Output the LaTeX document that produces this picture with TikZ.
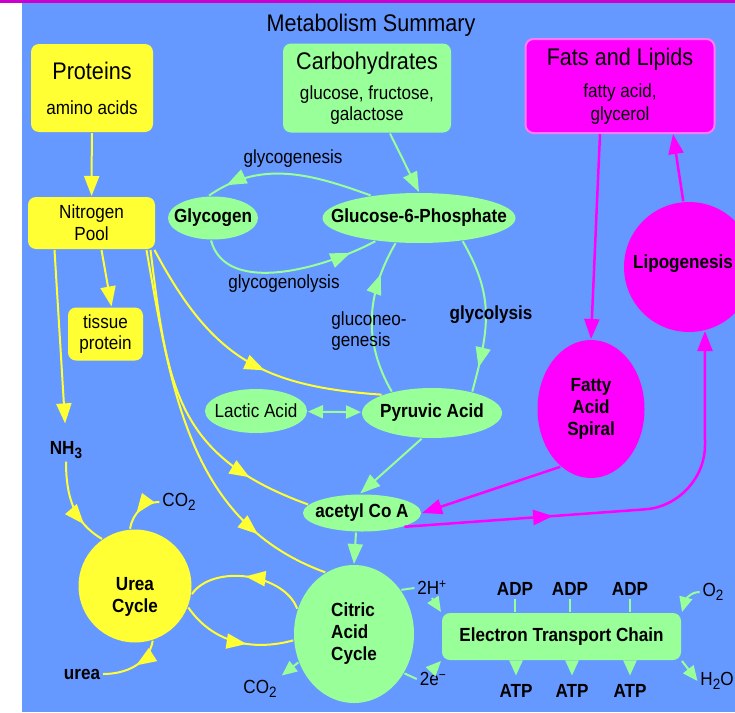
\documentclass[tikz,border=0pt]{standalone}
\usepackage{fontspec}
\setmainfont{Liberation Sans}[FakeStretch=0.9]
\usetikzlibrary{arrows.meta,shapes.geometric,decorations.markings}

\definecolor{sky}{RGB}{102,153,255}
\definecolor{leaf}{RGB}{153,255,153}
\definecolor{lemon}{RGB}{255,255,51}
\definecolor{fuchsia}{RGB}{255,0,255}
\definecolor{pinkrim}{RGB}{255,120,255}
\definecolor{plum}{RGB}{204,0,204}

\newcommand{\hdr}{\fontsize{24}{26}\selectfont}
\newcommand{\lowidx}[1]{\raisebox{-4pt}{\fontsize{15}{15}\selectfont #1}}
\newcommand{\slim}[1]{\makebox[0pt]{#1}}

\begin{document}
\begin{tikzpicture}[x=1pt,y=-1pt,>={Triangle[length=20pt,width=15pt]},
                    line width=2pt,font=\fontsize{19}{21}\selectfont,
                    heavy/.style={font=\fontsize{19}{22}\selectfont\bfseries},
                    short tip/.style={>={Triangle[length=15pt,width=13pt]}},
                    midtip/.style={postaction={decorate},decoration={markings,
                      mark=at position #1 with {\arrow{>}}}}]

  \tikzstyle{box}=[rectangle,rounded corners=8pt,align=center,inner sep=0pt]
  \tikzstyle{blob}=[ellipse,inner sep=0pt]
  \tikzstyle{chem}=[inner sep=2pt]

  \useasboundingbox (0,0) rectangle (735,712);
  \fill[white] (0,0) rectangle (735,712);
  \fill[sky] (22,3) rectangle (735,712);
  \fill[plum] (0,0) rectangle (735,2.5);

  \node (title) at (371,25) {\hdr Metabolism Summary};

  % sources
  \node[box,fill=lemon,minimum width=122pt,minimum height=88pt] (prot) at (92,88)
        {{\hdr Proteins}\\[14pt]amino acids};
  \node[box,fill=leaf,minimum width=168pt,minimum height=89pt] (carb) at (367,88)
        {{\hdr Carbohydrates}\\[9pt]glucose, fructose,\\galactose};
  \node[box,fill=fuchsia,draw=pinkrim,minimum width=189pt,minimum height=94pt] (fats) at (620,86)
        {{\hdr Fats and Lipids}\\[11pt]fatty acid,\\[2pt]glycerol};
  \node[box,fill=lemon,minimum width=127pt,minimum height=52pt] (npool) at (91.5,223)
        {Nitrogen\\[1pt]Pool};
  \node[box,fill=lemon,minimum width=75pt,minimum height=53pt] (tissue) at (105.5,334)
        {tissue\\protein};

  % intermediates
  \node[blob,fill=leaf,heavy,minimum width=90pt,minimum height=43pt] (glycogen) at (213,218) {\slim{Glycogen}};
  \node[blob,fill=leaf,heavy,minimum width=193pt,minimum height=50pt] (g6p) at (419,218) {\slim{Glucose-6-Phosphate}};
  \node[blob,fill=leaf,minimum width=102pt,minimum height=44pt] (lactic) at (256,411) {\slim{Lactic Acid}};
  \node[blob,fill=leaf,heavy,minimum width=140pt,minimum height=50pt] (pyruvic) at (432,413) {\slim{Pyruvic Acid}};
  \node[blob,fill=leaf,heavy,minimum width=118pt,minimum height=37pt] (acetyl) at (362,513) {\slim{acetyl Co A}};
  \node[blob,fill=leaf,heavy,align=left,minimum width=120pt,minimum height=138pt] (citric) at (354,634) {Citric\\Acid\\Cycle};
  \node[circle,fill=lemon,inner sep=0pt,minimum size=113pt,
        label={[heavy,align=center,yshift=-11pt]center:Urea\\Cycle}] (urea) at (135,586) {};
  \node[blob,fill=fuchsia,heavy,align=center,minimum width=107pt,minimum height=138pt] (fas) at (591,409) {Fatty\\Acid\\Spiral};
  \node[circle,fill=fuchsia,inner sep=0pt,minimum size=130pt,
        label={[heavy,xshift=-6pt,yshift=3pt]center:Lipogenesis}] (lipo) at (689,267) {};
  \node[box,fill=leaf,heavy,minimum width=239pt,minimum height=47pt] (etc) at (561.5,636.5) {Electron Transport Chain};

  % small labels
  \node[chem,heavy] (nh3)     at (66,450)  {NH\lowidx{3}};
  \node[chem]       (co2a)    at (179,502) {CO\lowidx{2}};
  \node[chem,heavy] (urealbl) at (82,674)  {urea};
  \node[chem]       (co2b)    at (260,689) {CO\lowidx{2}};
  \node[chem]       (hplus)   at (432,588) {2H\textsuperscript{+}};
  \node[chem]       (eminus)  at (433,679) {2e\textsuperscript{−}};
  \node[chem,heavy] (adp1)    at (515,589) {ADP};
  \node[chem,heavy] (adp2)    at (570,589) {ADP};
  \node[chem,heavy] (adp3)    at (630,589) {ADP};
  \node[chem,heavy] (atp1)    at (516,691) {ATP};
  \node[chem,heavy] (atp2)    at (572,691) {ATP};
  \node[chem,heavy] (atp3)    at (630,691) {ATP};
  \node[chem]       (o2)      at (713,592) {O\lowidx{2}};
  \node[chem]       (h2o)     at (717,681) {H\lowidx{2}O};

  % nitrogen side
  \path[lemon]
  (prot)                      edge [->] (npool)
  ([xshift=10pt]npool.south)  edge [->] ([xshift=6pt]tissue.north)
  ([xshift=-37pt]npool.south) edge [->,shorten >=15pt] (nh3.north)
  (nh3.south)  edge [out=-90,in=150,midtip=0.74] (urea.125)
  (co2a.west)  edge [out=180,in=80,midtip=0.62]  (urea.95)
  (urea.-72)   edge [out=-100,in=0,midtip=0.47]  (urealbl.east)
  (citric.156) edge [out=110,in=55,looseness=0.9,midtip=0.52] (urea.-8)
  (urea.-22)   edge [out=-55,in=195,midtip=0.6]  (citric.186)
  ([xshift=63pt]npool.south) edge [out=-62,in=176,looseness=1.15,midtip=0.58] (pyruvic.160)
  ([xshift=59pt]npool.south) edge [out=-83,in=160,looseness=1.2,midtip=0.8]   (acetyl.171)
  ([xshift=55pt]npool.south) edge [out=-80,in=160,midtip=0.8]                 (citric.115)
  ;

  % carbohydrate side
  \path[leaf]
  ([xshift=23pt]carb.south) edge [->] (g6p.north)
  (g6p.155)      edge [out=160,in=35,midtip=0.88]                 (glycogen.100)
  (glycogen.-95) edge [out=-75,in=-152,looseness=0.9,midtip=0.85] (g6p.-152)
  (g6p.-28)      edge [out=-60,in=75,looseness=1.1,midtip=0.84]   (pyruvic.28)
  (pyruvic.152)  edge [out=120,in=-120,midtip=0.78]               (g6p.-133)
  (lactic)       edge [<->,short tip] (pyruvic)
  (pyruvic.-112) edge [->]  (acetyl.95)
  ([xshift=-6pt]acetyl.south) edge [->] (citric.north)
  (citric.-153)  edge [->,short tip,shorten >=3pt] (co2b.north east)
  (citric.43)    edge (hplus.west)
  (hplus.south)  edge [->,short tip] (etc.north west)
  (citric.-38)   edge (eminus.west)
  (eminus.north) edge [->,short tip] (etc.south west)
  (adp1.south)   edge (adp1.south |- etc.north)
  (adp2.south)   edge (adp2.south |- etc.north)
  (adp3.south)   edge (adp3.south |- etc.north)
  (etc.south -| atp1.north) edge [->,short tip,shorten >=6pt] (atp1.north)
  (etc.south -| atp2.north) edge [->,short tip,shorten >=6pt] (atp2.north)
  (etc.south -| atp3.north) edge [->,short tip,shorten >=6pt] (atp3.north)
  (o2.west)       edge [->,short tip,out=180,in=75] (etc.north east)
  (etc.south east) edge [->,short tip] (h2o.west)
  ;

  % fat side
  \path[fuchsia,line width=2.5pt]
  ([xshift=-20pt]fats.south) edge [->] (fas.north)
  (lipo.95)   edge [->] ([xshift=53pt]fats.south)
  (fas.-118)  edge [->] (acetyl.east)
  ;
  \coordinate (bend) at (705,505);
  \draw[fuchsia,line width=2.5pt,rounded corners=60pt,->,midtip=0.33]
    (acetyl.-18) -- (bend) -- (lipo.-76);

  % pathway names, on top of the arcs
  \node[chem]            (genesis)   at (293,159) {glycogenesis};
  \node[chem]            (genolysis) at (284,284) {glycogenolysis};
  \node[chem,align=left] (gluco)     at (369,331) {gluconeo-\\genesis};
  \node[chem,heavy]      (glyco)     at (491,315) {glycolysis};
\end{tikzpicture}
\end{document}
